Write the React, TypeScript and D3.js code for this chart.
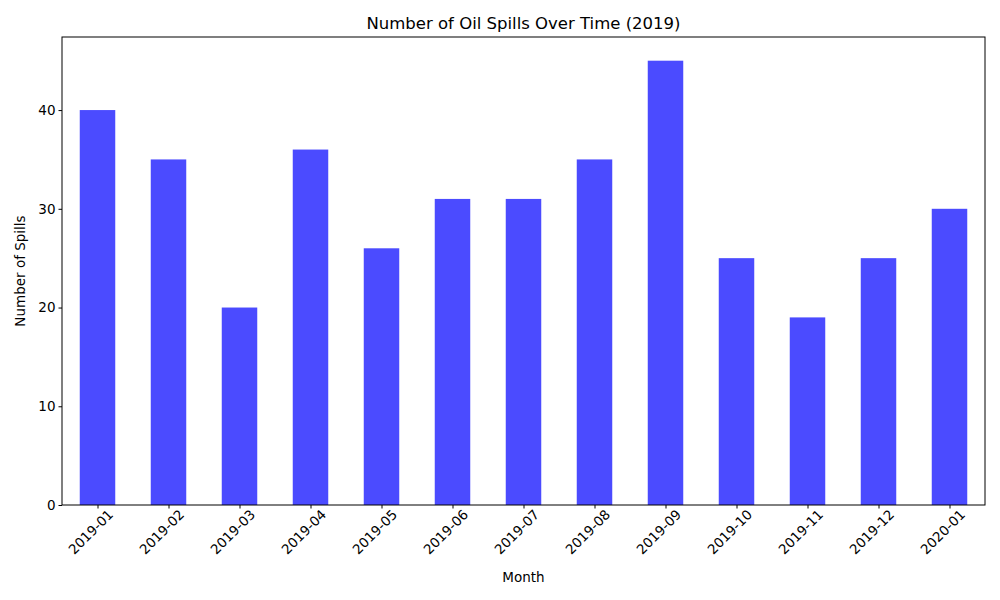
import { useEffect, useRef } from "react";
import { axisBottom, axisLeft, scaleLinear, select } from "d3";

const months = [
  "2019-01", "2019-02", "2019-03", "2019-04", "2019-05", "2019-06", "2019-07",
  "2019-08", "2019-09", "2019-10", "2019-11", "2019-12", "2020-01",
];
const spills = [40, 35, 20, 36, 26, 31, 31, 35, 45, 25, 19, 25, 30];
const yTicks = [0, 10, 20, 30, 40];

export default function App() {
  const svgRef = useRef<SVGSVGElement | null>(null);

  useEffect(() => {
    if (!svgRef.current) return;
    const svg = select(svgRef.current);
    svg.selectAll("*").remove();

    const width = 1000;
    const height = 600;
    const left = 62, right = 985, top = 37, bottom = 505;
    const font = "DejaVu Sans, sans-serif";

    const x = scaleLinear().domain([-0.5, months.length - 0.5]).range([left, right]);
    const y = scaleLinear().domain([0, 47.4]).range([bottom, top]);
    const barW = (x(1) - x(0)) * 0.5;

    svg.attr("viewBox", `0 0 ${width} ${height}`);
    svg.append("rect").attr("width", width).attr("height", height).attr("fill", "#fff");

    svg
      .append("g")
      .selectAll("rect")
      .data(spills)
      .join("rect")
      .attr("x", (_, i) => x(i) - barW / 2)
      .attr("width", barW)
      .attr("y", (d) => y(d))
      .attr("height", (d) => y(0) - y(d))
      .attr("fill", "#4b4bff");

    const xAxis = svg
      .append("g")
      .attr("transform", `translate(0,${bottom})`)
      .call(
        axisBottom(x)
          .tickValues(months.map((_, i) => i))
          .tickFormat((d) => months[d as number])
          .tickSize(3.5)
          .tickSizeOuter(0)
      );
    xAxis
      .selectAll("text")
      .attr("font-family", font)
      .attr("font-size", 13.5)
      .attr("fill", "#000")
      .attr("text-anchor", "end")
      .attr("dx", "0.3em")
      .attr("dy", "0.9em")
      .attr("transform", "rotate(-45)");

    const yAxis = svg
      .append("g")
      .attr("transform", `translate(${left},0)`)
      .call(axisLeft(y).tickValues(yTicks).tickSize(3.5).tickSizeOuter(0));
    yAxis.selectAll("text").attr("font-family", font).attr("font-size", 13.5).attr("fill", "#000");
    svg.selectAll(".domain").remove();
    svg.selectAll(".tick line").attr("stroke", "#000");

    svg
      .append("rect")
      .attr("x", left)
      .attr("y", top)
      .attr("width", right - left)
      .attr("height", bottom - top)
      .attr("fill", "none")
      .attr("stroke", "#000")
      .attr("stroke-width", 1);

    svg
      .append("text")
      .attr("x", (left + right) / 2)
      .attr("y", 29)
      .attr("text-anchor", "middle")
      .attr("font-family", font)
      .attr("font-size", 16.5)
      .text("Number of Oil Spills Over Time (2019)");

    svg
      .append("text")
      .attr("x", (left + right) / 2)
      .attr("y", 582)
      .attr("text-anchor", "middle")
      .attr("font-family", font)
      .attr("font-size", 13.5)
      .text("Month");

    svg
      .append("text")
      .attr("transform", `translate(25,${(top + bottom) / 2}) rotate(-90)`)
      .attr("text-anchor", "middle")
      .attr("font-family", font)
      .attr("font-size", 13.5)
      .text("Number of Spills");
  }, []);

  return (
    <svg
      ref={svgRef}
      width={1000}
      height={600}
      style={{ position: "absolute", left: 0, top: 0 }}
    />
  );
}
